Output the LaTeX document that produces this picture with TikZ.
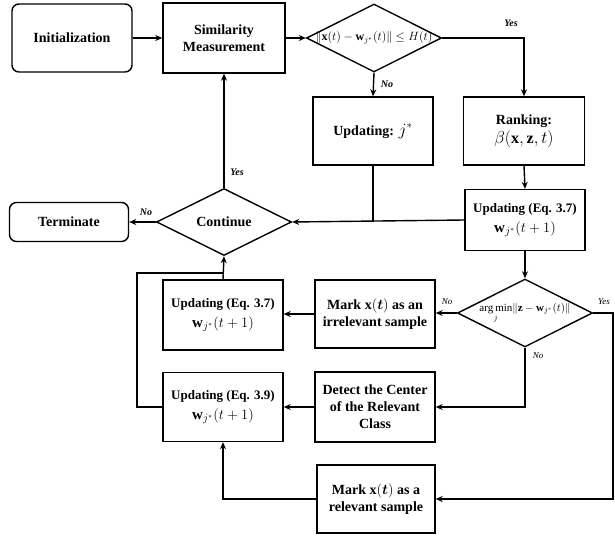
\documentclass[tikz,border=0pt]{standalone}
\usepackage{fontspec}
\setmainfont{Liberation Serif}
\usepackage{amsmath}
\usetikzlibrary{arrows.meta,shapes.geometric}

% smaller heading line used inside the update boxes
\newcommand{\eqhead}[1]{{\fontsize{13}{15}\selectfont #1}}

\tikzset{
  box/.style={draw, line width=1.4pt, align=center, inner sep=2pt,
    font=\bfseries\fontsize{14}{17}\selectfont},
  roundbox/.style={box, rounded corners=7pt},
  decision/.style={draw, diamond, line width=1.4pt, inner sep=0pt},
  dtext/.style={inner sep=0pt, font=\fontsize{12}{14}\selectfont},
  flow/.style={line width=1.4pt, -{Stealth[length=7pt,width=6pt]}},
  plain/.style={line width=1.4pt},
  lab/.style={font=\bfseries\itshape\fontsize{10}{12}\selectfont, inner sep=1pt}
}

\begin{document}
\begin{tikzpicture}[x=1pt, y=-1pt]
  \useasboundingbox (0,0) rectangle (615,537);

  % top row
  \node[roundbox, minimum width=120pt, minimum height=68pt] (init) at (72,38) {Initialization};
  \node[box, minimum width=122pt, minimum height=70pt] (sim) at (224,38) {Similarity\\Measurement};
  \node[decision, minimum width=135pt, minimum height=68pt] (d1) at (374,38) {};
  \node[dtext] (d1t) at (d1.center)
    {$\lVert \mathbf{x}(t)-\mathbf{w}_{j^*}(t)\rVert \le H(t)$};

  % second row
  \node[box, minimum width=120pt, minimum height=68pt] (upj) at (373,131)
    {Updating: \fontsize{16}{18}\selectfont$j^*$};
  \node[box, minimum width=121pt, minimum height=68pt] (rank) at (524,131)
    {Ranking:\\[2pt]\fontsize{16}{18}\selectfont$\beta(\mathbf{x},\mathbf{z},t)$};

  % third row
  \node[roundbox, minimum width=119pt, minimum height=39pt] (term) at (69,222) {Terminate};
  \node[decision, minimum width=135pt, minimum height=67pt] (cont) at (224,222) {};
  \node[inner sep=0pt, font=\bfseries\fontsize{14}{17}\selectfont] (contt) at (cont.center) {Continue};
  \node[box, minimum width=120pt, minimum height=61pt] (up37r) at (525,220)
    {\eqhead{Updating (Eq. 3.7)}\\[3pt]\fontsize{15}{17}\selectfont$\mathbf{w}_{j^*}(t+1)$};

  % fourth row
  \node[box, minimum width=120pt, minimum height=70pt] (up37l) at (223,315)
    {\eqhead{Updating (Eq. 3.7)}\\[3pt]\fontsize{15}{17}\selectfont$\mathbf{w}_{j^*}(t+1)$};
  \node[box, minimum width=120pt, minimum height=68pt] (markirr) at (375,314)
    {Mark $\mathbf{x}(\boldsymbol{t})$ as an\\irrelevant sample};
  \node[decision, minimum width=135pt, minimum height=68pt] (d2) at (525,313) {};
  \node[dtext, font=\fontsize{11}{13}\selectfont] (d2t) at (d2.center)
    {$\operatorname*{arg\,min}\limits_{j}\lVert \mathbf{z}-\mathbf{w}_{j^*}(t)\rVert$};

  % fifth row
  \node[box, minimum width=120pt, minimum height=69pt] (up39) at (223,407)
    {\eqhead{Updating (Eq. 3.9)}\\[3pt]\fontsize{15}{17}\selectfont$\mathbf{w}_{j^*}(t+1)$};
  \node[box, minimum width=120pt, minimum height=70pt] (detect) at (375,407)
    {Detect the Center\\of the Relevant\\Class};

  % bottom row
  \node[box, minimum width=118pt, minimum height=68pt] (markrel) at (376,499)
    {Mark $\mathbf{x}(\boldsymbol{t})$ as a\\relevant sample};

  % helper points for the loops
  \coordinate (rcorner) at (613,313);
  \coordinate (lcorner) at (137,407);
  \coordinate (ltop) at (137,273);
  \coordinate (join) at (223,273);

  % connectors
  \draw[flow] (init) -- (sim);
  \draw[flow] (sim) -- (d1);
  \draw[flow] (d1.east) -| (rank.north);
  \draw[flow] (d1.south) -- (upj.north);
  \draw[flow] (rank.south) -- (up37r.north);
  \draw[flow] (up37r.west) -- (cont.east);
  \draw[plain] (upj.south) -- (upj.south |- cont.east);
  \draw[flow] (cont.north) -- (sim.south);
  \draw[flow] (cont.west) -- (term.east);
  \draw[flow] (up37r.south) -- (d2.north);
  \draw[flow] (d2.west) -- (markirr.east |- d2.west);
  \draw[flow] (markirr.west) -- (up37l.east |- markirr.west);
  \draw[flow] (up37l.north) -- (cont.south);
  \draw[flow] (d2.south) |- (detect.east);
  \draw[flow] (detect.west) -- (up39.east);
  \draw[flow] (d2.east) -- (rcorner) |- (markrel.east);
  \draw[flow] (markrel.west) -| (up39.south);
  \draw[plain] (up39.west) -- (lcorner) -- (ltop) -- (join);

  % branch labels
  \node[lab] (y1) at (511,23) {Yes};
  \node[lab] (n1) at (387,84) {No};
  \node[lab] (y2) at (237,172) {Yes};
  \node[lab] (n2) at (146,212) {No};
  \node[lab, font=\itshape\fontsize{9}{11}\selectfont] (n3) at (447,302) {No};
  \node[lab, font=\itshape\fontsize{9}{11}\selectfont] (y3) at (604,302) {Yes};
  \node[lab, font=\itshape\fontsize{9}{11}\selectfont] (n4) at (538,356) {No};
\end{tikzpicture}
\end{document}
